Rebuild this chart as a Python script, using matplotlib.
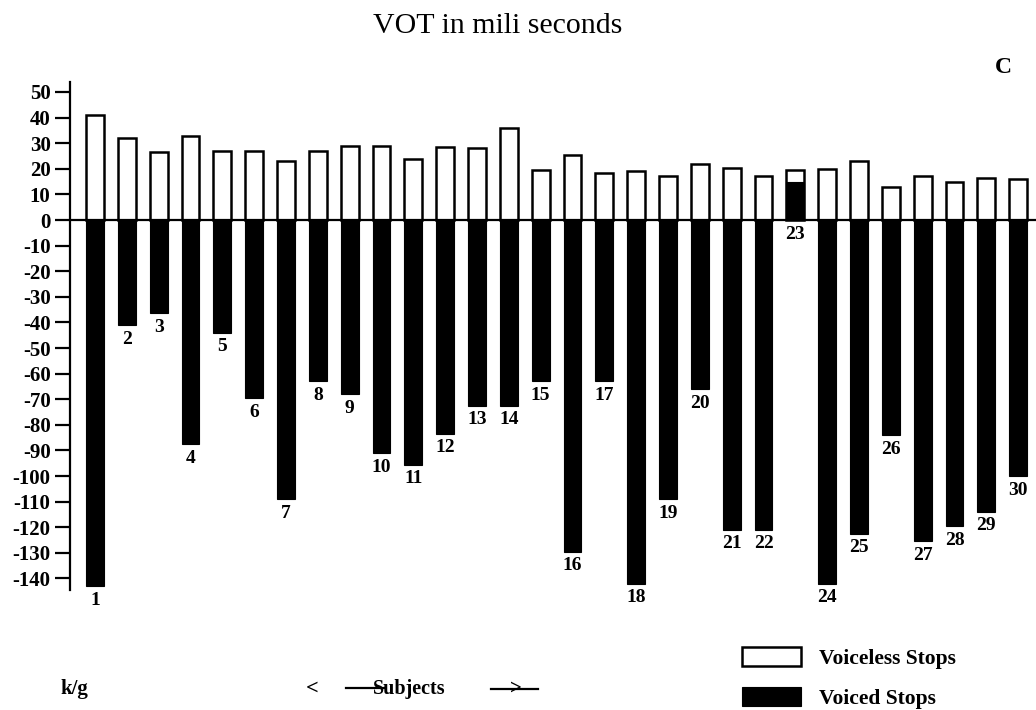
import matplotlib.pyplot as plt
from matplotlib import rc
from matplotlib.lines import Line2D
import numpy as np

rc('font', **{'family': 'serif', 'serif': ['Liberation Serif', 'DejaVu Serif']})

subjects = list(range(1, 31))
voiceless = [41, 32, 26.5, 33, 27, 27, 23, 27, 29, 29, 24, 28.5, 28, 36, 19.5,
             25.5, 18.5, 19, 17, 22, 20.5, 17, 19.5, 20, 23, 13, 17, 15, 16.5, 16]
voiced = [-143, -41, -36.5, -87.5, -44, -69.5, -109, -63, -68, -91, -95.5, -83.5,
          -72.5, -72.5, -63, -129.5, -63, -142, -109, -66, -121, -121, 15, -142,
          -122.5, -84, -125.5, -119.5, -114, -100]
yticks = list(range(50, -150, -10))

fig = plt.figure(figsize=(10.36, 7.10), dpi=100)
ax = fig.add_axes([0.0676, 0.169, 0.9324, 0.7155])

x = np.array(subjects)
w = 0.56
b1 = ax.bar(x, voiceless, width=w, color='white', edgecolor='black', linewidth=1.8, zorder=2)
b2 = ax.bar(x, voiced, width=w, color='black', edgecolor='black', linewidth=0.8, zorder=3)
ax.axhline(0, color='black', lw=1.6, zorder=4)

# numero do sujeito embaixo de cada barra
for s, v in zip(subjects, voiced):
    ax.annotate(str(s), (s, min(v, 0)), xytext=(0, -4), textcoords='offset points',
                ha='center', va='top', fontsize=14, fontweight='bold')

ax.set_xlim(0.215, 30.56)
ax.set_ylim(-144.5, 53.9)
ax.set_xticks([])
ax.set_yticks(yticks)
ax.set_yticklabels([str(t) for t in yticks], fontsize=15, fontweight='bold')
ax.tick_params(axis='y', direction='out', length=10.5, width=1.6, pad=3.5)
for sp in ['top', 'right', 'bottom']:
    ax.spines[sp].set_visible(False)
ax.spines['left'].set_linewidth(1.6)

fig.text(498/1036, 1 - 33/710, 'VOT in mili seconds', ha='center', va='baseline', fontsize=21.5)
fig.text(1003/1036, 1 - 73/710, 'C', ha='center', va='baseline', fontsize=17, fontweight='bold')

# rodape
yb = 1 - 689/710
fig.text(74/1036, yb, 'k/g', ha='center', va='center', fontsize=15, fontweight='bold')
fig.text(312/1036, yb, '<', ha='center', va='center', fontsize=16, fontweight='bold')
fig.add_artist(Line2D([346/1036, 385/1036], [yb + 0.002, yb + 0.002], color='black', lw=1.6))
fig.text(373/1036, yb, 'Subjects', ha='left', va='center', fontsize=14.5, fontweight='bold')
fig.add_artist(Line2D([491/1036, 538/1036], [yb, yb], color='black', lw=1.6))
fig.text(516/1036, yb, '>', ha='center', va='center', fontsize=15, fontweight='bold')

fig.legend([b1, b2], ['Voiceless Stops', 'Voiced Stops'], loc='center left',
           bbox_to_anchor=(723/1036, 1 - 678/710), frameon=False,
           handlelength=2.7, handleheight=1.0, labelspacing=0.85, handletextpad=0.85,
           prop={'weight': 'bold', 'size': 15.5})

plt.savefig('out.png')
